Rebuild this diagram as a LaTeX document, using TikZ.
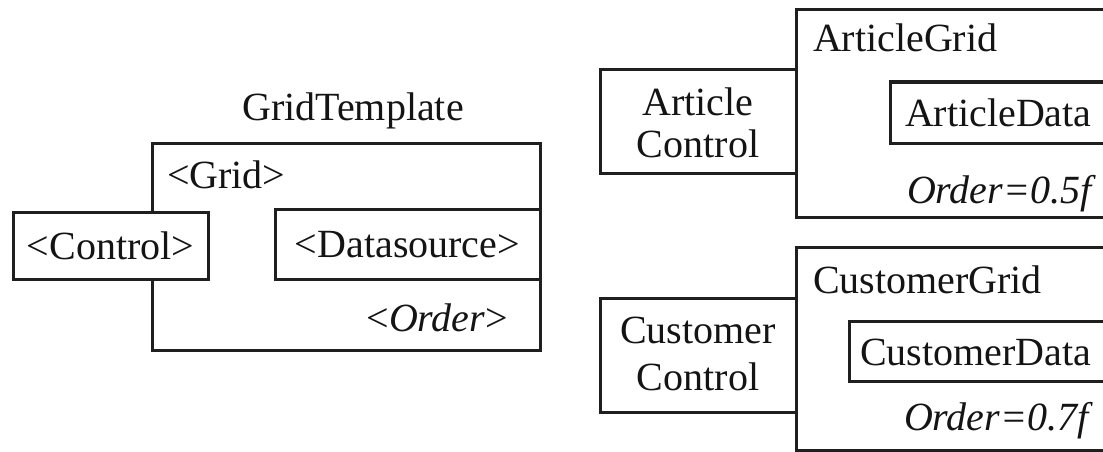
\documentclass[tikz,border=0pt]{standalone}
\usepackage{fontspec}
\setmainfont{Liberation Serif}
\begin{document}
\begin{tikzpicture}[x=1pt,y=-1pt,
  frame/.style={draw=black!88,line width=3pt,fill=white,rectangle,
    inner sep=0pt,outer sep=0pt,anchor=north west},
  txt/.style={inner sep=0pt,outer sep=0pt,font=\fontsize{40}{42}\selectfont,
    text=black!92},
  lbl/.style={txt,text height=27pt,text depth=0pt}]
\useasboundingbox (0,0) rectangle (1103,452);
\clip (0,0) rectangle (1103,452);

% ---- generic template ----
\node[lbl] (title) at (353,107) {GridTemplate};
\node[frame,minimum width=388pt,minimum height=207pt] (grid) at (152,143) {};
\node[frame,minimum width=195pt,minimum height=67pt] (ctrl) at (13,212) {};
\node[frame,minimum width=265pt,minimum height=70pt] (ds) at (275,209) {};
\node[lbl,anchor=west] (gridtxt) at (167,175) {<Grid>};
\node[lbl] (ctrltxt) at (ctrl.center) {<Control>};
\node[lbl] (dstxt) at (ds.center) {<Datasource>};
\node[lbl,anchor=east] (ordtxt) at (508,318) {<\textit{Order}>};

% ---- article instance ----
\node[frame,minimum width=400pt,minimum height=207pt] (agrid) at (796,10) {};
\node[frame,minimum width=196pt,minimum height=103pt] (actrl) at (600,70) {};
\node[frame,minimum width=300pt,minimum height=61pt] (adata) at (890,82) {};
\node[lbl,anchor=west] (agridtxt) at (813,38) {ArticleGrid};
\node[txt,align=center] (actrltxt) at ([yshift=-1pt]actrl.center) {Article\\Control};
\node[lbl,anchor=west] (adatatxt) at (905,113) {ArticleData};
\node[lbl,anchor=east] (aordtxt) at (1096,190) {\textit{Order=0.5f}};

% ---- customer instance ----
\node[frame,minimum width=400pt,minimum height=203pt] (cgrid) at (796,247) {};
\node[frame,minimum width=196pt,minimum height=114pt] (cctrl) at (600,298) {};
\node[frame,minimum width=300pt,minimum height=60pt] (cdata) at (849,321) {};
\node[lbl,anchor=west] (cgridtxt) at (813,280) {CustomerGrid};
\node[txt,align=center] (cctrltxt) at ([yshift=1pt]cctrl.center) {Customer\\[5pt]Control};
\node[lbl,anchor=west] (cdatatxt) at (860,352) {CustomerData};
\node[lbl,anchor=east] (cordtxt) at (1093,417) {\textit{Order=0.7f}};
\end{tikzpicture}
\end{document}
